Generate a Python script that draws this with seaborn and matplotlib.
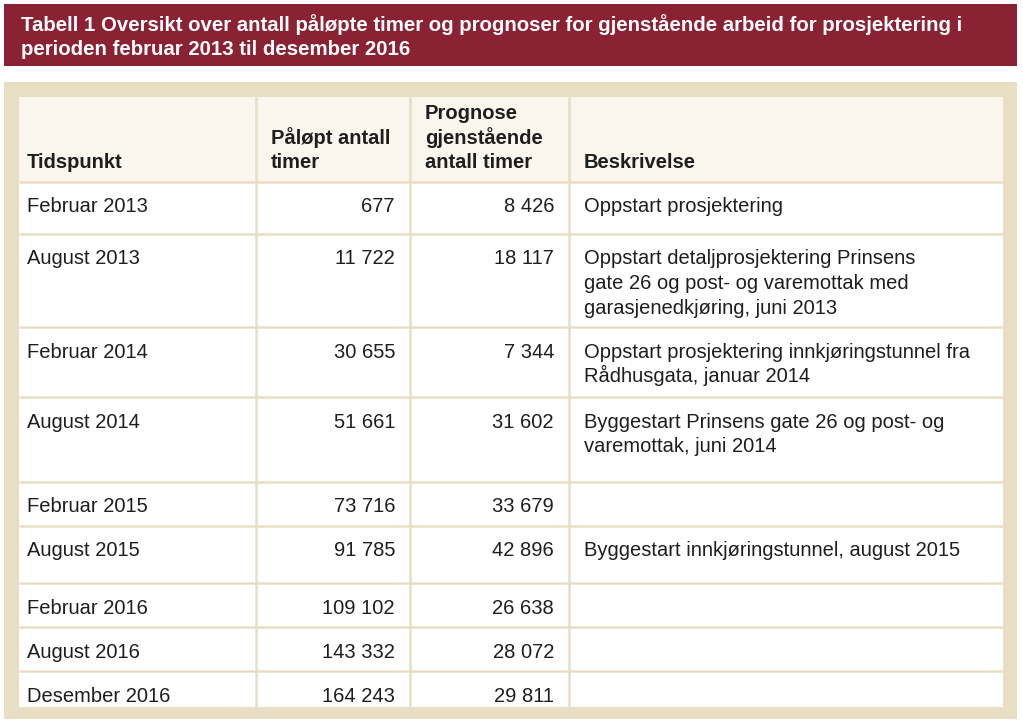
import matplotlib
matplotlib.use("Agg")
import matplotlib.pyplot as plt
import seaborn as sns
from matplotlib.patches import Rectangle

# Data
TITLE_LINES = [
    "Tabell 1 Oversikt over antall påløpte timer og prognoser for gjenstående arbeid for prosjektering i",
    "perioden februar 2013 til desember 2016",
]
HEADERS = [
    ["Tidspunkt"],
    ["Påløpt antall", "timer"],
    ["Prognose", "gjenstående", "antall timer"],
    ["Beskrivelse"],
]
tidspunkt = [
    "Februar 2013", "August 2013", "Februar 2014", "August 2014", "Februar 2015",
    "August 2015", "Februar 2016", "August 2016", "Desember 2016",
]
palopt_timer = [677, 11722, 30655, 51661, 73716, 91785, 109102, 143332, 164243]
prognose_timer = [8426, 18117, 7344, 31602, 33679, 42896, 26638, 28072, 29811]
beskrivelse = [
    ["Oppstart prosjektering"],
    ["Oppstart detaljprosjektering Prinsens", "gate 26 og post- og varemottak med",
     "garasjenedkjøring, juni 2013"],
    ["Oppstart prosjektering innkjøringstunnel fra", "Rådhusgata, januar 2014"],
    ["Byggestart Prinsens gate 26 og post- og", "varemottak, juni 2014"],
    [],
    ["Byggestart innkjøringstunnel, august 2015"],
    [],
    [],
    [],
]

# Layout (pixels)
W, H = 1023, 726
ROW_EDGES = [182, 234, 327, 397, 482, 526, 583, 627, 671, 707]
COL_EDGES = [19, 256, 410, 569, 1003]
HEADER_TOP = 97
LINE_STEP = 24.5
FONT = ["Liberation Sans", "DejaVu Sans"]
FS = 14.5
FS_TITLE = 14.7

BANNER = "#8B2233"
FRAME = "#E8DEC4"
HEADER_BG = "#FAF6EE"
TEXT = "#1e1e1e"


def fmt(v):
    return f"{v:,}".replace(",", " ")


sns.set_theme(style="white")
plt.rcParams["font.family"] = FONT

fig = plt.figure(figsize=(W / 100, H / 100), dpi=100)
ax = fig.add_axes([0, 0, 1, 1])
ax.set_xlim(0, W)
ax.set_ylim(H, 0)
ax.axis("off")

# title banner
ax.add_patch(Rectangle((4, 4), 1013, 62, facecolor=BANNER, edgecolor="none"))
for i, line in enumerate(TITLE_LINES):
    ax.text(21, 31 + i * 24, line, color="white", fontsize=FS_TITLE, fontweight="bold",
            va="baseline", ha="left")

# frame and table body
ax.add_patch(Rectangle((4, 82), 1013, 637, facecolor=FRAME, edgecolor="none"))
ax.add_patch(Rectangle((COL_EDGES[0], HEADER_TOP), COL_EDGES[-1] - COL_EDGES[0],
                       ROW_EDGES[-1] - HEADER_TOP, facecolor="white", edgecolor="none"))
ax.add_patch(Rectangle((COL_EDGES[0], HEADER_TOP), COL_EDGES[-1] - COL_EDGES[0],
                       ROW_EDGES[0] - HEADER_TOP, facecolor=HEADER_BG, edgecolor="none"))

# grid lines
for y in ROW_EDGES[:-1]:
    ax.plot([COL_EDGES[0], COL_EDGES[-1]], [y, y], color=FRAME, lw=1.8, solid_capstyle="butt")
for x in COL_EDGES[1:-1]:
    ax.plot([x, x], [HEADER_TOP, ROW_EDGES[-1]], color=FRAME, lw=1.8, solid_capstyle="butt")

# header
head_x = [27, 271, 425, 584]
for x, lines in zip(head_x, HEADERS):
    n = len(lines)
    for k, line in enumerate(lines):
        ax.text(x, 168 - (n - 1 - k) * LINE_STEP, line, color=TEXT, fontsize=FS,
                fontweight="bold", va="baseline", ha="left")

# body rows
for r in range(len(tidspunkt)):
    base = ROW_EDGES[r] + 30.5
    ax.text(27, base, tidspunkt[r], color=TEXT, fontsize=FS, va="baseline", ha="left")
    ax.text(395, base, fmt(palopt_timer[r]), color=TEXT, fontsize=FS, va="baseline", ha="right")
    ax.text(554, base, fmt(prognose_timer[r]), color=TEXT, fontsize=FS, va="baseline", ha="right")
    for k, line in enumerate(beskrivelse[r]):
        ax.text(584, base + k * LINE_STEP, line, color=TEXT, fontsize=FS,
                va="baseline", ha="left")

fig.savefig("out.png", dpi=100)
plt.close(fig)
